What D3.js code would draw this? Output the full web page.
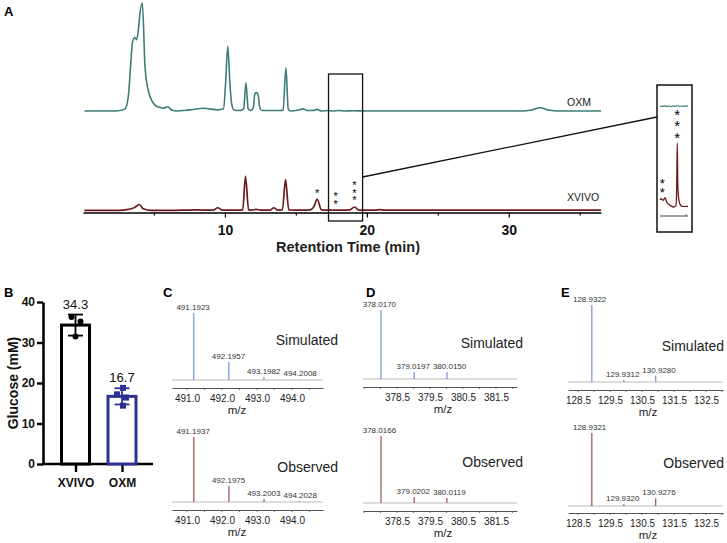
<!DOCTYPE html>
<html><head><meta charset="utf-8">
<script src="https://cdn.jsdelivr.net/npm/d3@7/dist/d3.min.js"></script>
<style>body{margin:0;background:#fff}svg{display:block;font-family:"Liberation Sans",Arial,Helvetica,sans-serif}</style>
</head><body><svg id="c" width="727" height="543"></svg>
<script>
// ================= DATA =================
// Panel A: chromatograms (retention time in min, relative signal)
const oxmTime   = [0.1,2.0,2.6,2.96,3.19,3.35,3.49,3.66,3.78,3.9,4.0,4.18,4.37,4.6,5.07,5.4,5.65,5.95,6.25,6.6,7.5,8.5,9.5,9.9,10.05,10.2,10.35,10.47,10.63,11.1,11.32,11.48,11.64,11.8,12.0,12.11,12.23,12.35,12.46,12.6,13.9,14.1,14.3,14.46,14.6,15.2,15.5,15.8,16.2,16.5,16.8,17.3,17.6,18.0,18.5,19.0,20.0,31.0,31.6,32.2,32.8,33.5,36.5];
const oxmSignal = [0,0,0.5,2,13,41,64,68,66,75,89,100,41,19,5.5,3.4,2.5,4,1,0,1,2.5,1,2,26,60,26,7,1,0.5,2,26,2,0.5,3,16,17,14,3,0.5,0.5,1,40,2,0,1,2,0.5,0.5,1.5,0,0.5,0,0.5,0,0.3,0,0,1,3,1,0,0];
const xvivoTime   = [0.1,2.5,3.2,3.6,3.97,4.25,4.8,6.0,8.0,9.2,9.5,9.8,11.0,11.25,11.45,11.67,11.9,12.2,12.5,13.2,13.45,13.7,14.05,14.27,14.5,15.5,16.0,16.27,16.5,16.8,17.2,18.0,18.8,19.13,19.45,20.6,20.9,21.2,36.5];
const xvivoSignal = [0.5,0.5,1.5,3,6,2,0.5,0.5,1,0.8,3,0.8,0.8,1,32,1,0.8,1.5,0.8,0.8,3,0.8,1,29,1,0.8,1,4,11,1,0.8,0.8,1,3.7,0.8,0.8,1.3,0.8,0.8];
const traceNames = ["OXM","XVIVO"];
const rtTicks = [10,20,30];
const rtMinorTicks = [5,15,25,35];
const starTimes  = [16.5,17.8,19.13];
const starCounts = [1,2,3];
const zoomWindow = [17.3,19.7];
// inset (magnified 17.4–20.0 min)
const insetTime       = [17.4,17.47,17.71,17.86,18.02,18.33,18.64,18.89,18.95,19.0,19.06,19.19,19.42,20.0];
const insetXvivo      = [7,8.4,6.7,9.4,5,1.7,0,1.7,20,64,20,5,0.7,0.7];
const insetOxmTime    = [17.4,17.6,17.8,18.0,18.2,18.4,18.6,18.8,19.0,19.2,19.4,19.6,19.8,20.0];
const insetOxm        = [1,0.5,1.2,0.6,1,0.4,1.1,0.7,1.3,0.5,1,0.6,1.2,0.8];
const insetStarTimes  = [17.62,19.0];
const insetStarCounts = [2,3];

// Panel B: glucose
const groups = ["XVIVO","OXM"];
const glucoseMean = [34.3,16.7];
const glucoseSD = [2.6,2.0];
const glucosePoints = [[36.3,35.2,31.5],[17.2,18.8,16.4,14.4]];
const glucoseTicks = [0,10,20,30,40];

// Panels C–E: isotope patterns (m/z, relative intensity)
const cSimMz = [491.1923,492.1957,493.1982,494.2008], cSimInt = [100,27,4.5,0.8];
const cObsMz = [491.1937,492.1975,493.2003,494.2028], cObsInt = [100,25,4.5,0.8];
const cTicks = [491.0,492.0,493.0,494.0];
const dSimMz = [378.0170,379.0197,380.0150], dSimInt = [100,10,10];
const dObsMz = [378.0166,379.0202,380.0119], dObsInt = [100,9,7.5];
const dTicks = [378.5,379.5,380.5,381.5];
const eSimMz = [128.9322,129.9312,130.9280], eSimInt = [100,2.5,8];
const eObsMz = [128.9321,129.9320,130.9276], eObsInt = [100,2.5,10.5];
const eTicks = [128.5,129.5,130.5,131.5,132.5];
const spectrumTitles = ["Simulated","Observed"];

// ================= DRAW =================
const svg = d3.select("#c");
const TEAL = "#3e7c78", RED = "#6b1b1b", NAVY = "#2e3192";
const SIMC = "#7390d8", OBSC = "#a0504e";

function panelLetter(t, x, y){
  svg.append("text").attr("x",x).attr("y",y).attr("font-size",13).attr("font-weight","bold").attr("fill","#000").text(t);
}
// a vertical stack of asterisks written as ONE vertical text
function starStack(g, x, lowestCenter, n, fs, gap){
  g.append("text").attr("x",x).attr("y",lowestCenter-(n-1)*gap-0.45*fs)
    .style("writing-mode","vertical-rl").style("text-orientation","upright")
    .attr("letter-spacing",gap-1.117*fs).attr("font-size",fs).attr("fill","#000")
    .text("*".repeat(n));
}

// ---------- Panel A ----------
panelLetter("A",4,16);
const xA = d3.scaleLinear().domain([0,36.5]).range([83,601]);
const yOxm = d3.scaleLinear().domain([0,100]).range([111,3]);
const yXv  = d3.scaleLinear().domain([0,100]).range([211,103]);
const mkLine = (x,y)=>d3.line().x(d=>x(d[0])).y(d=>y(d[1])).curve(d3.curveMonotoneX);

const gA = svg.append("g");
const axA = gA.append("g").attr("transform","translate(0,212.5)")
  .call(d3.axisBottom(xA).tickValues(rtTicks).tickSize(5).tickSizeOuter(0).tickPadding(7.5).tickFormat(d3.format("d")));
axA.select(".domain").attr("stroke","#000").attr("stroke-width",1.4);
axA.selectAll(".tick line").attr("stroke","#000").attr("stroke-width",1.2);
axA.selectAll("text").attr("font-size",14).attr("font-weight","bold").attr("font-family",null).attr("fill","#111");
const axAm = gA.append("g").attr("transform","translate(0,212.5)")
  .call(d3.axisBottom(xA).tickValues(rtMinorTicks).tickSize(3).tickFormat(""));
axAm.select(".domain").remove();
axAm.selectAll(".tick line").attr("stroke","#000").attr("stroke-width",1.2);
gA.append("text").attr("x",348).attr("y",251.5).attr("text-anchor","middle")
  .attr("font-size",14.5).attr("font-weight","bold").attr("fill","#222").text("Retention Time (min)");

gA.append("path").datum(d3.zip(oxmTime,oxmSignal)).attr("d",mkLine(xA,yOxm))
  .attr("fill","none").attr("stroke",TEAL).attr("stroke-width",1.6);
gA.append("path").datum(d3.zip(xvivoTime,xvivoSignal)).attr("d",mkLine(xA,yXv))
  .attr("fill","none").attr("stroke",RED).attr("stroke-width",1.7);

gA.append("text").attr("x",567).attr("y",106).attr("font-size",10.5).attr("fill","#222").text(traceNames[0]);
gA.append("text").attr("x",567).attr("y",201).attr("font-size",10.5).attr("fill","#222").text(traceNames[1]);

function localMax(times, vals, t, w){
  let m = 0;
  times.forEach((tt,i)=>{ if (Math.abs(tt-t)<=w) m = Math.max(m, vals[i]); });
  return m;
}
starTimes.forEach((t,i)=>{
  const top = yXv(localMax(xvivoTime,xvivoSignal,t,0.25));
  starStack(gA, xA(t), top-7, starCounts[i], 11, 8);
});

// zoom box and connector
const boxTop = 74, boxBottom = 221;
gA.append("rect").attr("x",xA(zoomWindow[0])).attr("y",boxTop)
  .attr("width",xA(zoomWindow[1])-xA(zoomWindow[0])).attr("height",boxBottom-boxTop)
  .attr("fill","none").attr("stroke","#111").attr("stroke-width",1.3);
const inset = {x0:657,x1:692,y0:85,y1:232};
gA.append("line").attr("x1",xA(zoomWindow[1])).attr("y1",177).attr("x2",inset.x0).attr("y2",117)
  .attr("stroke","#111").attr("stroke-width",1.3);
gA.append("rect").attr("x",inset.x0).attr("y",inset.y0).attr("width",inset.x1-inset.x0).attr("height",inset.y1-inset.y0)
  .attr("fill","#fff").attr("stroke","#111").attr("stroke-width",1.5);

const xIn = d3.scaleLinear().domain([17.4,20.0]).range([660,688]);
const yInX = d3.scaleLinear().domain([0,64]).range([207,143]);
const yInO = d3.scaleLinear().domain([0,10]).range([107,97]);
gA.append("path").datum(d3.zip(insetOxmTime,insetOxm)).attr("d",mkLine(xIn,yInO))
  .attr("fill","none").attr("stroke",TEAL).attr("stroke-width",1.2);
gA.append("path").datum(d3.zip(insetTime,insetXvivo)).attr("d",mkLine(xIn,yInX))
  .attr("fill","none").attr("stroke",RED).attr("stroke-width",1.3);
gA.append("line").attr("x1",660).attr("x2",688).attr("y1",216).attr("y2",216).attr("stroke","#666").attr("stroke-width",1.2);
gA.append("line").attr("x1",686).attr("x2",686).attr("y1",214).attr("y2",216).attr("stroke","#666").attr("stroke-width",1);
insetStarTimes.forEach((t,i)=>{
  const top = yInX(localMax(insetTime,insetXvivo,t,0.2));
  const big = insetStarCounts[i] >= 3;
  starStack(gA, xIn(t), top-8, insetStarCounts[i], big?15:13, big?11:8.5);
});

// ---------- Panel B ----------
panelLetter("B",4,297);
const gB = svg.append("g");
const yB = d3.scaleLinear().domain([0,40]).range([464,302]);
const xB = d3.scalePoint().domain(groups).range([52.25,145.25]).padding(0.5);
const barColors = ["#000", NAVY];
const yAxB = gB.append("g").attr("transform","translate(43,0)")
  .call(d3.axisLeft(yB).tickValues(glucoseTicks).tickSize(6).tickSizeOuter(0).tickPadding(2));
yAxB.select(".domain").attr("stroke","#000").attr("stroke-width",2.6);
yAxB.selectAll(".tick line").attr("stroke","#000").attr("stroke-width",2.4);
yAxB.selectAll("text").attr("font-size",12).attr("font-weight","bold").attr("font-family",null).attr("fill","#111");
gB.append("line").attr("x1",42).attr("x2",153).attr("y1",yB(0)).attr("y2",yB(0)).attr("stroke","#000").attr("stroke-width",2.6);
const xAxB = gB.append("g").attr("transform",`translate(0,${yB(0)})`)
  .call(d3.axisBottom(xB).tickSize(8).tickSizeOuter(0).tickPadding(6));
xAxB.select(".domain").remove();
xAxB.selectAll(".tick line").attr("stroke","#000").attr("stroke-width",2.4);
xAxB.selectAll("text").attr("font-size",12).attr("font-weight","bold").attr("font-family",null).attr("fill","#111");
gB.append("text").attr("transform","translate(18,383) rotate(-90)").attr("text-anchor","middle")
  .attr("font-size",14).attr("font-weight","bold").attr("fill","#111").text("Glucose (mM)");

const jitter = [[-4,5,0],[-5,1,4,1]];
groups.forEach((gname,i)=>{
  const cx = xB(gname), col = barColors[i];
  gB.append("rect").attr("x",cx-14).attr("y",yB(glucoseMean[i])).attr("width",28)
    .attr("height",yB(0)-yB(glucoseMean[i])).attr("fill","#fff").attr("stroke",col).attr("stroke-width",3);
  const lo = glucoseMean[i]-glucoseSD[i], hi = glucoseMean[i]+glucoseSD[i];
  gB.append("line").attr("x1",cx).attr("x2",cx).attr("y1",yB(lo)).attr("y2",yB(hi)).attr("stroke",col).attr("stroke-width",1.8);
  [lo,hi].forEach(v=>gB.append("line").attr("x1",cx-7.5).attr("x2",cx+7.5).attr("y1",yB(v)).attr("y2",yB(v)).attr("stroke",col).attr("stroke-width",1.8));
  glucosePoints[i].forEach((v,k)=>{
    if (i===0) gB.append("circle").attr("cx",cx+jitter[i][k]).attr("cy",yB(v)).attr("r",3).attr("fill",col);
    else gB.append("rect").attr("x",cx+jitter[i][k]-3).attr("y",yB(v)-3).attr("width",6).attr("height",6).attr("fill",col);
  });
  gB.append("text").attr("x",cx).attr("y",yB(hi)-6).attr("text-anchor","middle").attr("font-size",13)
    .attr("fill","#111").text(d3.format(".1f")(glucoseMean[i]));
});

// ---------- Spectra ----------
function drawSpectrum(o){
  const g = svg.append("g");
  const x = d3.scaleLinear().domain(o.domain).range(o.range);
  const y = d3.scaleLinear().domain([0,100]).range([o.baseY, o.baseY-o.h]);
  g.append("line").attr("x1",o.range[0]).attr("x2",o.range[1]).attr("y1",o.baseY).attr("y2",o.baseY)
    .attr("stroke","#b9b9b9").attr("stroke-width",1);
  o.mz.forEach((m,i)=>g.append("line").attr("x1",x(m)).attr("x2",x(m)).attr("y1",o.baseY).attr("y2",y(o.int[i]))
    .attr("stroke",o.color).attr("stroke-width",1.2));
  const labs = o.mz.map((m,i)=>g.append("text").attr("x",x(m)).attr("y",y(o.int[i])-3).attr("text-anchor","middle")
    .attr("font-size",8).attr("fill","#333").text(d3.format(".4f")(m)));
  for (let i=1;i<labs.length;i++){
    const a = labs[i-1], b = labs[i];
    const wa = a.node().getComputedTextLength(), wb = b.node().getComputedTextLength();
    const xa = +a.attr("x"), xb = +b.attr("x");
    const ov = (xa+wa/2+3) - (xb-wb/2);
    if (ov>0){ a.attr("x",xa-ov/2); b.attr("x",xb+ov/2); }
  }
  const ax = g.append("g").attr("transform",`translate(0,${o.axisY})`)
    .call(d3.axisBottom(x).tickValues(o.ticks).tickSize(0).tickSizeOuter(0).tickPadding(7).tickFormat(d3.format(".1f")));
  ax.select(".domain").attr("stroke","#555").attr("stroke-width",1);
  ax.selectAll("text").attr("font-size",10).attr("font-family",null).attr("fill","#222");
  const minor = d3.range(Math.ceil(o.domain[0]*2)/2, o.domain[1], 0.5);
  g.selectAll(null).data(minor).join("line").attr("x1",d=>x(d)).attr("x2",d=>x(d))
    .attr("y1",o.axisY).attr("y2",o.axisY+2).attr("stroke","#555").attr("stroke-width",0.8);
  g.append("text").attr("x",o.mzX).attr("y",o.axisY+26).attr("text-anchor","middle").attr("font-size",11.5).attr("fill","#222").text("m/z");
  g.append("text").attr("x",o.wordX).attr("y",o.wordY).attr("text-anchor","end").attr("font-size",14).attr("fill","#222").text(o.word);
}

panelLetter("C",163,297);
panelLetter("D",366,297);
panelLetter("E",561,297);
const cDom = [490.571,494.886], cRange=[172,323];
const dDom = [377.47,382.137], dRange=[363,517];
const eDom = [128.1875,133.03], eRange=[568,723];
drawSpectrum({domain:cDom,range:cRange,baseY:380,axisY:388,h:67,mz:cSimMz,int:cSimInt,color:SIMC,ticks:cTicks,mzX:237,word:spectrumTitles[0],wordX:338,wordY:345});
drawSpectrum({domain:cDom,range:cRange,baseY:502,axisY:510,h:65,mz:cObsMz,int:cObsInt,color:OBSC,ticks:cTicks,mzX:237,word:spectrumTitles[1],wordX:338,wordY:472});
drawSpectrum({domain:dDom,range:dRange,baseY:379,axisY:387,h:69,mz:dSimMz,int:dSimInt,color:SIMC,ticks:dTicks,mzX:443,word:spectrumTitles[0],wordX:523,wordY:348});
drawSpectrum({domain:dDom,range:dRange,baseY:503,axisY:511,h:67,mz:dObsMz,int:dObsInt,color:OBSC,ticks:dTicks,mzX:443,word:spectrumTitles[1],wordX:523,wordY:467});
drawSpectrum({domain:eDom,range:eRange,baseY:382,axisY:390,h:77,mz:eSimMz,int:eSimInt,color:SIMC,ticks:eTicks,mzX:648,word:spectrumTitles[0],wordX:724,wordY:351});
drawSpectrum({domain:eDom,range:eRange,baseY:506,axisY:513,h:73,mz:eObsMz,int:eObsInt,color:OBSC,ticks:eTicks,mzX:648,word:spectrumTitles[1],wordX:724,wordY:468});
</script></body></html>
